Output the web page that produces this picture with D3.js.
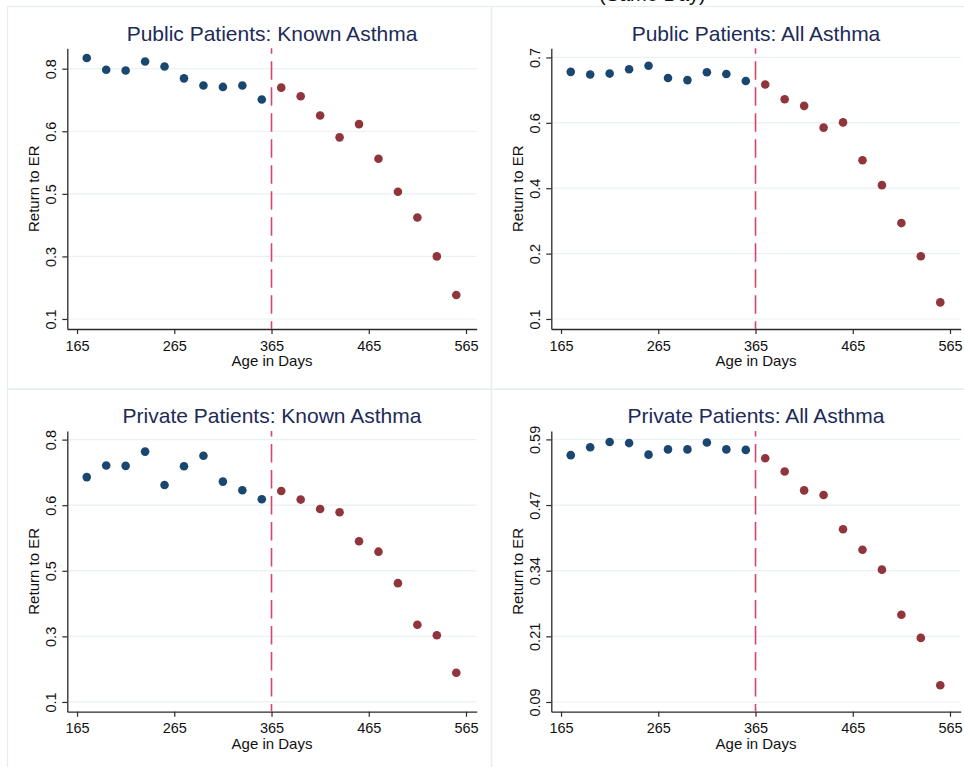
<!DOCTYPE html>
<html>
<head>
<meta charset="utf-8">
<script src="https://cdn.jsdelivr.net/npm/d3@7"></script>
<style>
  html, body { margin: 0; padding: 0; background: #ffffff; }
  svg { display: block; }
  text { font-family: "Liberation Sans", Arial, Helvetica, sans-serif; }
</style>
</head>
<body>
<svg id="chart" width="964" height="767"></svg>
<script>
// ---------------- DATA ----------------
const mainTitle = "(Same Day)";
const panelTitles = [
  "Public Patients: Known Asthma",
  "Public Patients: All Asthma",
  "Private Patients: Known Asthma",
  "Private Patients: All Asthma"
];
const xLabel = "Age in Days";
const yLabel = "Return to ER";
const cutoffDay = 365;

const daysBefore = [175, 195, 215, 235, 255, 275, 295, 315, 335, 355];
const daysAfter  = [375, 395, 415, 435, 455, 475, 495, 515, 535, 555];

const publicKnownBefore  = [0.830, 0.797, 0.795, 0.820, 0.806, 0.773, 0.753, 0.749, 0.753, 0.714];
const publicKnownAfter   = [0.747, 0.723, 0.669, 0.608, 0.645, 0.548, 0.456, 0.384, 0.275, 0.167];
const publicAllBefore    = [0.667, 0.661, 0.663, 0.673, 0.681, 0.653, 0.648, 0.666, 0.662, 0.646];
const publicAllAfter     = [0.638, 0.604, 0.589, 0.539, 0.551, 0.464, 0.407, 0.320, 0.244, 0.138];
const privateKnownBefore = [0.700, 0.731, 0.730, 0.768, 0.679, 0.729, 0.757, 0.688, 0.665, 0.641];
const privateKnownAfter  = [0.663, 0.640, 0.615, 0.606, 0.529, 0.501, 0.417, 0.306, 0.278, 0.178];
const privateAllBefore   = [0.560, 0.575, 0.585, 0.583, 0.561, 0.571, 0.571, 0.584, 0.571, 0.570];
const privateAllAfter    = [0.554, 0.529, 0.493, 0.484, 0.419, 0.380, 0.342, 0.256, 0.212, 0.122];

const xTicks = [165, 265, 365, 465, 565];
const xTickLabels = ["165", "265", "365", "465", "565"];

const knownYTicks = [0.1, 0.275, 0.45, 0.625, 0.8];
const knownYTickLabels = ["0.1", "0.3", "0.5", "0.6", "0.8"];
const publicAllYTicks = [0.1, 0.25, 0.4, 0.55, 0.7];
const publicAllYTickLabels = ["0.1", "0.2", "0.4", "0.6", "0.7"];
const privateAllYTicks = [0.09, 0.215, 0.34, 0.465, 0.59];
const privateAllYTickLabels = ["0.09", "0.21", "0.34", "0.47", "0.59"];

// axis extents (Stata pads beyond ticks)
const xDomain = [155, 576];
const yDomains = [[0.072, 0.857], [0.077, 0.721], [0.074, 0.823], [0.0715, 0.606]];

const panels = [
  { title: panelTitles[0], before: publicKnownBefore,  after: publicKnownAfter,  yTicks: knownYTicks,      yLabels: knownYTickLabels,      yDomain: yDomains[0] },
  { title: panelTitles[1], before: publicAllBefore,    after: publicAllAfter,    yTicks: publicAllYTicks,  yLabels: publicAllYTickLabels,  yDomain: yDomains[1] },
  { title: panelTitles[2], before: privateKnownBefore, after: privateKnownAfter, yTicks: knownYTicks,      yLabels: knownYTickLabels,      yDomain: yDomains[2] },
  { title: panelTitles[3], before: privateAllBefore,   after: privateAllAfter,   yTicks: privateAllYTicks, yLabels: privateAllYTickLabels, yDomain: yDomains[3] }
];

// ---------------- LAYOUT / STYLE ----------------
const svg = d3.select("#chart");
const W = 964, H = 767;
const panelOrigins = [[7, 6], [491, 6], [7, 388.7], [491, 388.7]];
const panelW = 484, panelH = 382.7;
const plot = { left: 60.3, right: 469.7, top: 42.3, bottom: 323 };
const colBlue = "#1a476f";
const colRed = "#90353b";
const colDash = "#d6466a";
const colGrid = "#e9f1f2";
const colFrame = "#e6eef0";
const colTitle = "#1c2b58";
const colAxis = "#2a2a2a";

svg.append("rect").attr("width", W).attr("height", H).attr("fill", "#ffffff");

// cut-off main title at very top (only its lower edge shows, as in the source)
svg.append("text")
  .attr("x", 599).attr("y", 0.5)
  .attr("font-size", 20)
  .attr("fill", "#111")
  .text(mainTitle);

// panel frames
panels.forEach((p, i) => {
  const [ox, oy] = panelOrigins[i];
  svg.append("rect")
    .attr("x", ox + 0.5).attr("y", oy + 0.5)
    .attr("width", panelW).attr("height", panelH)
    .attr("fill", "none")
    .attr("stroke", colFrame)
    .attr("stroke-width", 1.3);
});

const x = d3.scaleLinear().domain(xDomain).range([plot.left, plot.right]);

panels.forEach((p, i) => {
  const [ox, oy] = panelOrigins[i];
  const g = svg.append("g").attr("transform", `translate(${ox},${oy})`);
  const y = d3.scaleLinear().domain(p.yDomain).range([plot.bottom, plot.top]);

  // gridlines
  g.append("g").selectAll("line").data(p.yTicks).join("line")
    .attr("x1", plot.left).attr("x2", plot.right)
    .attr("y1", d => y(d)).attr("y2", d => y(d))
    .attr("stroke", colGrid).attr("stroke-width", 1.2);

  // title
  g.append("text")
    .attr("x", (plot.left + plot.right) / 2)
    .attr("y", 34.5)
    .attr("text-anchor", "middle")
    .attr("font-size", 21)
    .attr("fill", colTitle)
    .text(p.title);

  // y axis
  const yAxis = g.append("g")
    .attr("transform", `translate(${plot.left},0)`)
    .call(d3.axisLeft(y).tickValues(p.yTicks)
      .tickFormat((d, k) => p.yLabels[k]).tickSize(5).tickSizeOuter(0));
  yAxis.select(".domain").attr("stroke", colAxis).attr("stroke-width", 1.3);
  yAxis.selectAll(".tick line").attr("stroke", colAxis).attr("stroke-width", 1.2);
  yAxis.selectAll(".tick text")
    .attr("transform", "rotate(-90)")
    .attr("x", 0).attr("y", -11.8).attr("dy", 0)
    .attr("text-anchor", "middle")
    .attr("font-size", 14.5)
    .attr("font-family", "\"Liberation Sans\", Arial, sans-serif")
    .attr("fill", "#111");

  // x axis
  const xAxis = g.append("g")
    .attr("transform", `translate(0,${plot.bottom})`)
    .call(d3.axisBottom(x).tickValues(xTicks)
      .tickFormat((d, k) => xTickLabels[k]).tickSize(5).tickSizeOuter(0));
  xAxis.select(".domain").attr("stroke", colAxis).attr("stroke-width", 1.3);
  xAxis.selectAll(".tick line").attr("stroke", colAxis).attr("stroke-width", 1.2);
  xAxis.selectAll(".tick text")
    .attr("y", 21.6).attr("dy", 0)
    .attr("font-size", 14.5)
    .attr("font-family", "\"Liberation Sans\", Arial, sans-serif")
    .attr("fill", "#111");

  // axis titles
  g.append("text")
    .attr("x", (plot.left + plot.right) / 2)
    .attr("y", 360)
    .attr("text-anchor", "middle")
    .attr("font-size", 15)
    .attr("fill", "#111")
    .text(xLabel);
  g.append("text")
    .attr("transform", `translate(31.7,${(plot.top + plot.bottom) / 2}) rotate(-90)`)
    .attr("text-anchor", "middle")
    .attr("font-size", 15)
    .attr("fill", "#111")
    .text(yLabel);

  // cutoff dashed line
  g.append("line")
    .attr("x1", x(cutoffDay)).attr("x2", x(cutoffDay))
    .attr("y1", plot.top).attr("y2", plot.bottom)
    .attr("stroke", colDash).attr("stroke-width", 1.6)
    .attr("stroke-dasharray", "18.5,7.5")
    .attr("stroke-dashoffset", 13.1);

  // points
  g.append("g").selectAll("circle").data(daysBefore.map((d, k) => [d, p.before[k]])).join("circle")
    .attr("cx", d => x(d[0])).attr("cy", d => y(d[1])).attr("r", 4.3)
    .attr("fill", colBlue);
  g.append("g").selectAll("circle").data(daysAfter.map((d, k) => [d, p.after[k]])).join("circle")
    .attr("cx", d => x(d[0])).attr("cy", d => y(d[1])).attr("r", 4.3)
    .attr("fill", colRed);
});
</script>
</body>
</html>
